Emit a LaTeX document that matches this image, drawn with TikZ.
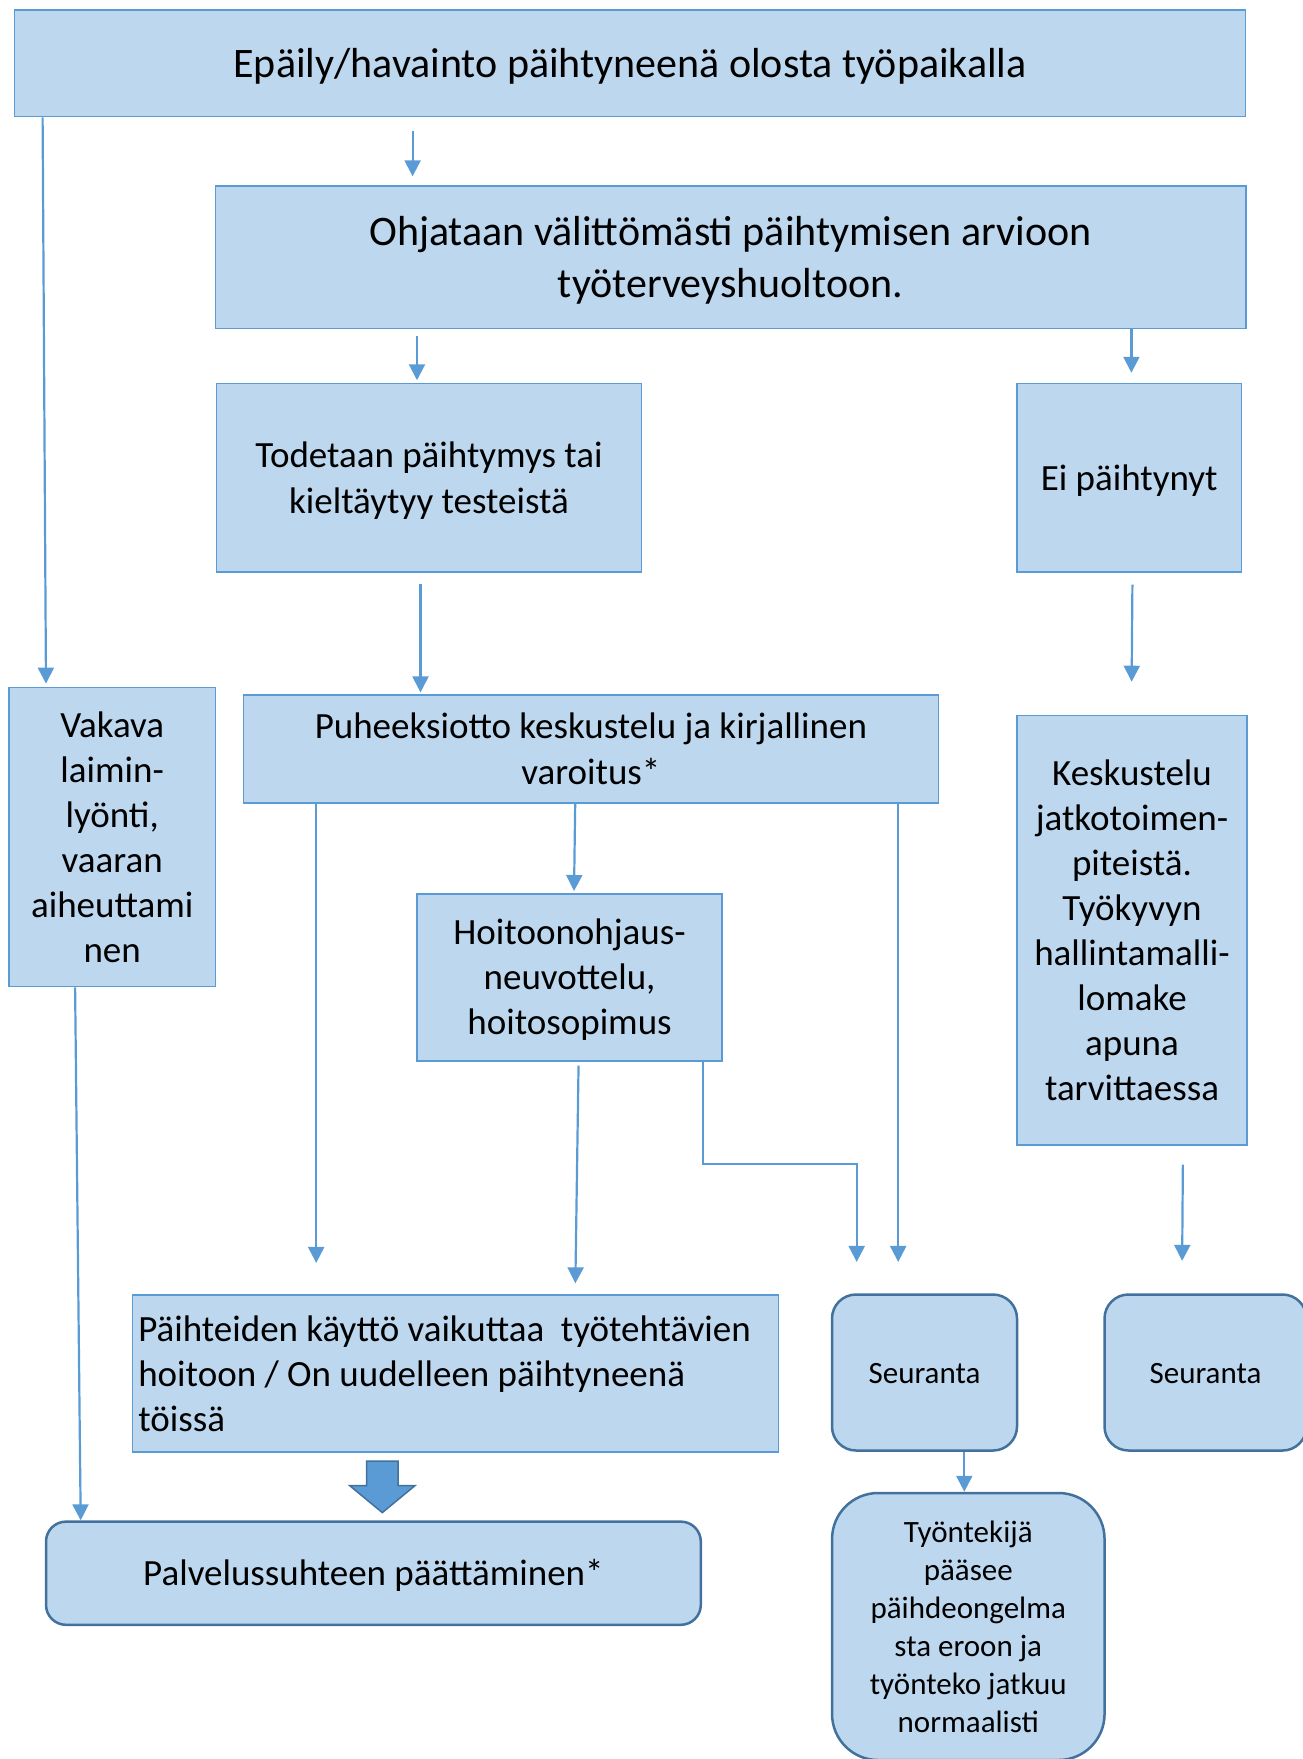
\documentclass[tikz,border=0pt]{standalone}
\usepackage{fontspec}
\setmainfont{Carlito}
\usetikzlibrary{arrows.meta}
\definecolor{boxfill}{RGB}{189,215,238}
\definecolor{boxline}{RGB}{91,155,213}
\definecolor{roundline}{RGB}{65,113,156}
\newcommand{\ls}{\rule[-0.27em]{0pt}{1.22em}}

\begin{document}
\begin{tikzpicture}[x=1pt, y=-1pt,
    box/.style={rectangle, draw=boxline, line width=1.5pt, fill=boxfill, align=center, inner sep=0pt},
    rbox/.style={rectangle, rounded corners=24pt, draw=roundline, line width=2.5pt, fill=boxfill, align=center, inner sep=0pt},
    big/.style={font=\fontsize{42}{51}\selectfont},
    mid/.style={font=\fontsize{37}{45}\selectfont},
    small/.style={font=\fontsize{31}{38}\selectfont},
    arrow/.style={-{Triangle[length=16pt, width=16pt]}, line width=2.2pt, draw=boxline},
    blockarrow/.style={fill=boxline, draw=roundline, line width=1.5pt, line join=miter}
]
\useasboundingbox (0,0) rectangle (1303,1759);
\clip (0,0) rectangle (1303,1759);

% Components
\node[box, big, minimum width=1231pt, minimum height=106.5pt] (top) at (630.2,63.4) {\ls Epäily/havainto päihtyneenä olosta työpaikalla\ls};
\node[box, big, minimum width=1030.5pt, minimum height=142.4pt] (ohj) at (730.5,257.3) {\ls Ohjataan välittömästi päihtymisen arvioon\\työterveyshuoltoon.\ls};
\node[box, mid, minimum width=425pt, minimum height=188.4pt] (tod) at (428.9,477.7) {\ls Todetaan päihtymys tai\\kieltäytyy testeistä\ls};
\node[box, mid, minimum width=224.3pt, minimum height=188.4pt] (ei) at (1129.2,477.7) {\ls Ei päihtynyt\ls};
\node[box, mid, minimum width=695.2pt, minimum height=107.7pt] (puh) at (590.9,749) {\ls Puheeksiotto keskustelu ja kirjallinen\\varoitus*\ls};
\node[box, mid, minimum width=206.3pt, minimum height=299.3pt] (vak) at (112.2,837) {\ls Vakava\\laimin-\\lyönti,\\vaaran\\aiheuttami\\nen\ls};
\node[box, mid, minimum width=229.9pt, minimum height=429.5pt] (kes) at (1132,930.2) {\ls Keskustelu\\jatkotoimen-\\piteistä.\\Työkyvyn\\hallintamalli-\\lomake\\apuna\\tarvittaessa\ls};
\node[box, mid, minimum width=305pt, minimum height=167.1pt] (hoi) at (569.6,977.3) {\ls Hoitoonohjaus-\\neuvottelu,\\hoitosopimus\ls};
\node[box, mid, align=flush left, text width=634pt, minimum width=645.9pt, minimum height=157pt] (pai) at (455.3,1373.6) {\ls Päihteiden käyttö vaikuttaa\ \ työtehtävien\\hoitoon / On uudelleen päihtyneenä\\töissä\ls};
\node[rbox, small, minimum width=185pt, minimum height=156pt] (seu1) at (924.5,1372.5) {\ls Seuranta\ls};
\node[rbox, small, minimum width=202pt, minimum height=156pt] (seu2) at (1205.5,1372.5) {\ls Seuranta\ls};
\node[rbox, small, rounded corners=46pt, minimum width=272.5pt, minimum height=267pt] (tyo) at (968.3,1626.5) {\ls Työntekijä\\pääsee\\päihdeongelma\\sta eroon ja\\työnteko jatkuu\\normaalisti\ls};
\node[rbox, mid, rounded corners=20pt, minimum width=654.8pt, minimum height=103.2pt] (pal) at (373.4,1573.2) {\ls Palvelussuhteen päättäminen*\ls};

% Block arrow
\draw[blockarrow] (366.7,1461) -- (398,1461) -- (398,1485.7) -- (414.9,1485.7) -- (382.3,1512.6) -- (349.8,1485.7) -- (366.7,1485.7) -- cycle;

% Arrows
\draw[arrow, shorten <=14pt, shorten >=9pt] (top.south -| 412.6,0) -- (ohj.north -| 412.6,0);
\draw[arrow, shorten >=3pt] (top.south -| 42.6,0) -- (vak.north -| 46,0);
\draw[arrow, shorten <=6.5pt, shorten >=2.5pt] (ohj.south -| 417,0) -- (tod.north -| 417,0);
\draw[arrow, shorten >=10pt] (ohj.south -| 1131.4,0) -- (ei.north -| 1131.4,0);
\draw[arrow, shorten <=11pt, shorten >=2pt] (tod.south -| 420.5,0) -- (puh.north -| 420.5,0);
\draw[arrow, shorten <=12pt, shorten >=33pt] (ei.south -| 1132.5,0) -- (kes.north -| 1131.4,0);
\draw[arrow] (vak.south -| 75.1,0) -- (pal.north -| 80.7,0);
\draw[arrow, shorten >=2pt] (puh.south -| 575.2,0) -- (hoi.north -| 574,0);
\draw[arrow, shorten >=31.4pt] (puh.south -| 316.2,0) -- (pai.north -| 316.2,0);
\draw[arrow, shorten >=31.3pt] (puh.south -| 898.2,0) -- (seu1.north -| 898.2,0);
\draw[arrow, shorten <=4pt, shorten >=11pt] (hoi.south -| 578.6,0) -- (pai.north -| 575.2,0);
\draw[arrow, shorten >=31.3pt] (hoi.south -| 703,0) -- (703,1163.9) -- (856.7,1163.9) -- (seu1.north -| 856.7,0);
\draw[arrow, shorten <=19pt, shorten >=32.4pt] (kes.south -| 1183,0) -- (seu2.north -| 1181.9,0);
\draw[arrow] (seu1.south -| 964.3,0) -- (tyo.north -| 964.3,0);

\end{tikzpicture}
\end{document}
